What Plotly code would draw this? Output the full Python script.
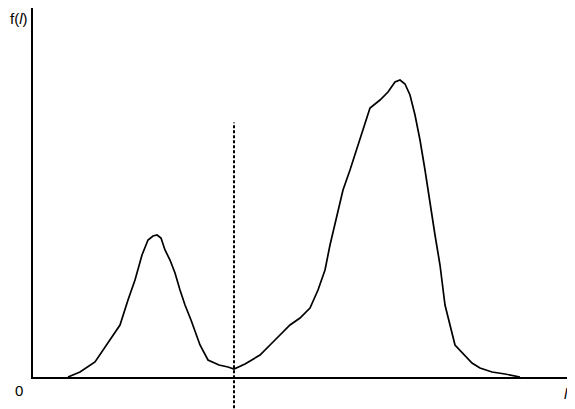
import plotly.graph_objects as go

# grey level l (pixels from origin) and histogram height f(l)
grey_level = [35, 47, 62, 77, 87, 95, 102, 109, 115, 120, 124, 128, 132, 137, 142, 147, 152, 158,
              167, 175, 186, 195, 201, 212, 227, 242, 257, 267, 277, 285, 292, 297, 303, 310, 317,
              322, 327, 337, 347, 355, 362, 367, 372, 377, 382, 387, 392, 397, 402, 407, 412,
              422, 432, 439, 447, 459, 472, 482, 487]
counts = [0, 5, 15, 37, 52, 77, 97, 122, 137, 141, 142, 139, 127, 117, 104, 87, 72, 57,
          32, 17, 12, 10, 8, 13, 22, 37, 52, 59, 69, 87, 107, 132, 157, 187, 207,
          222, 237, 269, 277, 285, 295, 297, 293, 282, 262, 237, 207, 172, 142, 112, 72,
          32, 22, 14, 9, 5, 3, 1, 0]
threshold = 201

fig = go.Figure()

fig.add_trace(
    go.Scatter(x = grey_level,
               y = counts,
               mode = 'lines',
               line = dict(color = 'black', width = 1.7),
               showlegend = False))

fig.add_shape(type = 'line', xref = 'x', yref = 'paper',
              x0 = threshold, x1 = threshold, y0 = -0.085, y1 = 0.69,
              line = dict(color = 'black', width = 2, dash = '3px,2px'))

# page body adds an 8px offset, so the figure is sized 8px smaller
fig.update_layout(width = 567,
                  height = 401,
                  margin = dict(l = 25, r = 3, t = 0, b = 32),
                  paper_bgcolor = 'white',
                  plot_bgcolor = 'white',
                  font = dict(family = 'Arial', size = 15, color = 'black'),
                  annotations = [dict(text = "f(<i>l</i>)", x = 0, y = 1.0, xref = 'paper', yref = 'paper',
                                      xanchor = 'left', yanchor = 'top', xshift = -25, yshift = 0,
                                      showarrow = False),
                                 dict(text = "0", x = 0, y = 0, xref = 'paper', yref = 'paper',
                                      xanchor = 'right', yanchor = 'top', xshift = -8, yshift = -3,
                                      showarrow = False),
                                 dict(text = "<i>l</i>", x = 1, y = 0, xref = 'paper', yref = 'paper',
                                      xanchor = 'center', yanchor = 'top', xshift = -6, yshift = -6,
                                      showarrow = False)],
                  xaxis = dict(range = [0, 539], showline = True, linecolor = 'black', linewidth = 2,
                               showgrid = False, zeroline = False, showticklabels = False, ticks = ''),
                  yaxis = dict(range = [0, 369], showline = True, linecolor = 'black', linewidth = 2,
                               showgrid = False, zeroline = False, showticklabels = False, ticks = ''))

fig.write_html("out.html")
